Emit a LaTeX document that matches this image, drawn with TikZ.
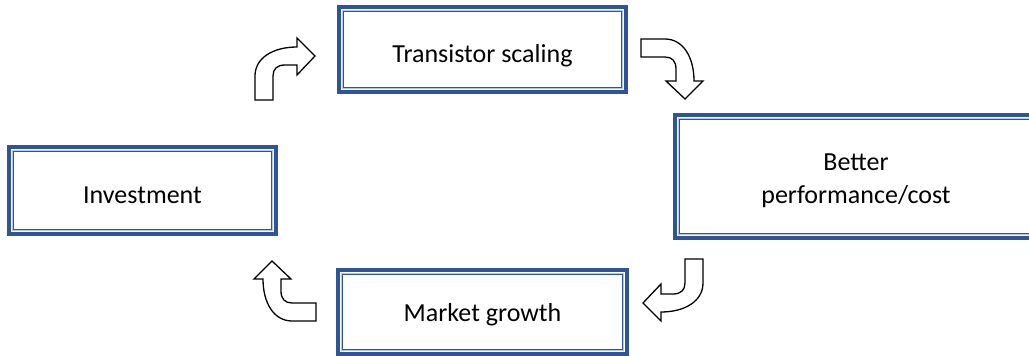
\documentclass[tikz,border=0pt]{standalone}
\usepackage{fontspec}
\setmainfont{Carlito}
\usetikzlibrary{calc}
\definecolor{boxblue}{RGB}{47,85,151}
\definecolor{boxpale}{RGB}{180,199,231}
\tikzset{
  framebox/.style={rectangle, draw=boxblue, line width=4.4pt, fill=white,
    inner sep=0pt, font=\fontsize{26}{33}\selectfont, align=center,
    text height=25pt, text depth=0pt,
    path picture={
      \draw[boxpale, line width=1.2pt]
        ([shift={(3.2,3.2)}]path picture bounding box.south west) rectangle
        ([shift={(-3.2,-3.2)}]path picture bounding box.north east);
      \draw[boxblue, line width=1.1pt]
        ([shift={(4.6,4.6)}]path picture bounding box.south west) rectangle
        ([shift={(-4.6,-4.6)}]path picture bounding box.north east);
    }},
  blockarrow/.style={draw=black, line width=1.3pt, fill=white, line join=miter},
  bentarrow/.pic={
    \draw[blockarrow] (0,0) -- (0,24) .. controls (0,42) and (18,53) .. (42,53)
      -- (42,62) -- (60,44) -- (42,25) -- (42,35) -- (30,35)
      .. controls (22,35) and (18,31) .. (18,24) -- (18,0) -- cycle;
  }
}
\begin{document}
\begin{tikzpicture}[x=1pt, y=1pt]
  \useasboundingbox (0,0) rectangle (1029,-356);

  % the four stages of the cycle
  \node[framebox, minimum width=287pt, minimum height=85pt] (ts) at (482.5,-49.5) {Transistor scaling};
  \node[framebox, minimum width=362pt, minimum height=123pt, text height=53pt, text depth=0pt] (bp) at (856,-176.5) {Better\\performance/cost};
  \node[framebox, minimum width=289pt, minimum height=84pt, text height=18pt] (mg) at (482.5,-312) {Market growth};
  \node[framebox, minimum width=267pt, minimum height=87pt] (inv) at (142.5,-190.5) {Investment};

  % bent block arrows between the stages
  \pic (a1) at (255,-100) {bentarrow};
  \pic[rotate=-90] (a2) at (641,-39) {bentarrow};
  \pic[rotate=180] (a3) at (703,-259) {bentarrow};
  \pic[rotate=90] (a4) at (316,-321) {bentarrow};
\end{tikzpicture}
\end{document}
